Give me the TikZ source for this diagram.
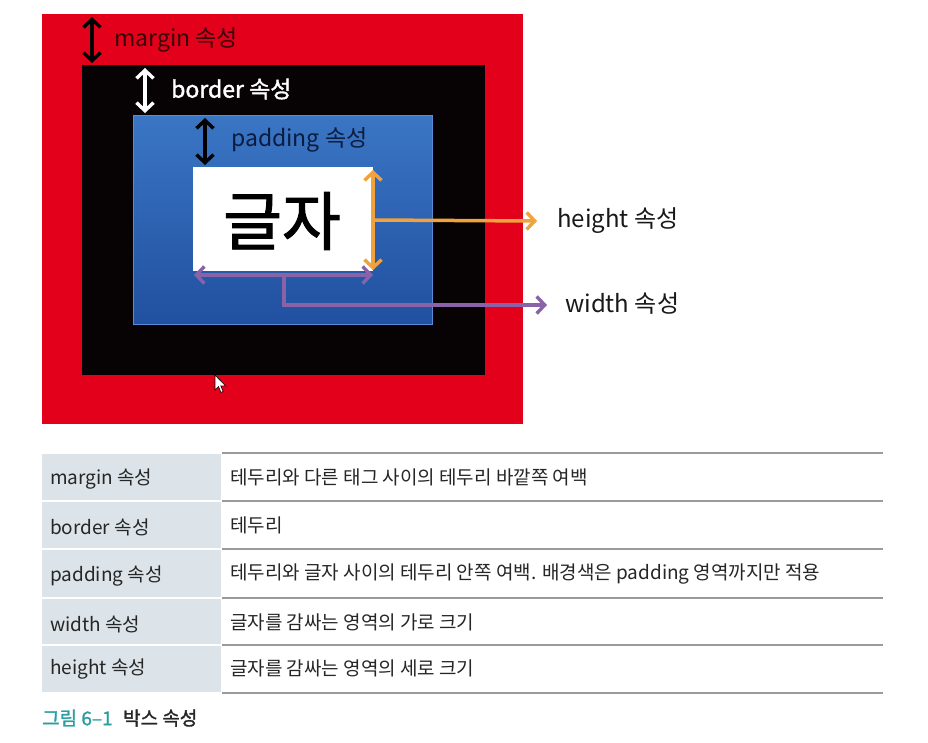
\documentclass[tikz,border=0pt]{standalone}
\usepackage{fontspec}
\setmainfont{Noto Sans CJK KR}
\newfontfamily\krb{Noto Sans CJK KR}[FakeBold=1.5]
\usetikzlibrary{arrows.meta}
\definecolor{redbg}{HTML}{E2001A}
\definecolor{blacktop}{HTML}{070203}
\definecolor{bluetop}{HTML}{3A76C4}
\definecolor{bluebot}{HTML}{2150A0}
\definecolor{blueedge}{HTML}{5B8BD6}
\definecolor{orangearr}{HTML}{F0A23C}
\definecolor{purplearr}{HTML}{8A62A8}
\definecolor{marginlab}{HTML}{3A0208}
\definecolor{paddinglab}{HTML}{0C1C40}
\definecolor{cellbg}{HTML}{DCE4E9}
\definecolor{rule}{HTML}{9A9A9A}
\definecolor{teal}{HTML}{2A9EA0}
\tikzset{
  barb/.tip={Straight Barb[length=8pt,width=17pt,line width=3.4pt]},
  hand/.style={line width=4pt, arrows={barb-barb}},
  onehead/.style={line width=3.5pt, -barb},
  lab/.style={anchor=west, inner sep=0pt, font=\fontsize{23}{25}\selectfont},
  celltxt/.style={anchor=west, inner sep=0pt, font=\fontsize{19}{21}\selectfont, text=black!85},
}
\begin{document}
\begin{tikzpicture}[x=1pt,y=-1pt]
\useasboundingbox[fill=white] (0,0) rectangle (928,742);
% boxes
\fill[redbg] (42,14) rectangle (523,424);
\fill[blacktop] (82,65) rectangle (485,375);
\shade[top color=bluetop, bottom color=bluebot] (133,115) rectangle (432,324);
\draw[blueedge, line width=1pt] (133,115) rectangle (432,324);
\fill[white] (193,167) rectangle (373,271);
\node[inner sep=0pt, font=\krb\fontsize{64}{64}\selectfont] (content) at (282,221) {글자};
% margin
\coordinate (m1) at (92,17);
\coordinate (m2) at (92,63);
\draw[hand, black] (m1) -- (m2);
\node[lab, text=marginlab] (marginlab) at (114,40) {margin 속성};
% border
\coordinate (b1) at (145,68);
\coordinate (b2) at (145,113);
\draw[hand, white] (b1) -- (b2);
\node[lab, text=white, font=\krb\fontsize{23}{25}\selectfont] (borderlab) at (171,89) {border 속성};
% padding
\coordinate (p1) at (205,118);
\coordinate (p2) at (205,165);
\draw[hand, black] (p1) -- (p2);
\node[lab, text=paddinglab] (paddinglab) at (231,140) {padding 속성};
% height
\coordinate (h1) at (373,170);
\coordinate (h2) at (373,270);
\coordinate (hm) at (373,220);
\draw[hand, orangearr] (h1) -- (h2);
\node[lab, text=black!90, font=\fontsize{24}{26}\selectfont] (heightlab) at (557,221) {height 속성};
\draw[onehead, orangearr] (hm) -- ([xshift=-20pt]heightlab.west);
% width
\coordinate (w1) at (194,275);
\coordinate (w2) at (373,275);
\coordinate (wm) at (284,275);
\coordinate (wc) at (284,305);
\draw[hand, purplearr] (w1) -- (w2);
\node[lab, text=black!90, font=\fontsize{24}{26}\selectfont] (widthlab) at (565,304) {width 속성};
\draw[onehead, purplearr] (wm) -- (wc) -- ([xshift=-18pt]widthlab.west |- wc);
% cursor
\filldraw[fill=white, draw=black, line width=0.6pt] (215,375) -- (215,390) -- (218.5,386.5) -- (221,392.5) -- (223.2,391.5) -- (220.7,385.8) -- (225.5,385.8) -- cycle;
% table
\foreach \ya/\yb in {453/501, 501/549, 549/598, 598/645, 645/693}{
  \fill[cellbg] (42,\ya+1) rectangle (221,\yb-1);
}
\foreach \y in {453, 501, 549, 598, 645, 693}{
  \draw[rule, line width=1.3pt] (222,\y) -- (883,\y);
}
\node[celltxt] (k1) at (50,479) {margin 속성};
\node[celltxt] (k2) at (50,527) {border 속성};
\node[celltxt] (k3) at (50,576) {padding 속성};
\node[celltxt] (k4) at (50,624) {width 속성};
\node[celltxt] (k5) at (50,669) {height 속성};
\node[celltxt] (v1) at (230,477) {테두리와 다른 태그 사이의 테두리 바깥쪽 여백};
\node[celltxt] (v2) at (230,525) {테두리};
\node[celltxt] (v3) at (230,574) {테두리와 글자 사이의 테두리 안쪽 여백. 배경색은 padding 영역까지만 적용};
\node[celltxt] (v4) at (230,622) {글자를 감싸는 영역의 가로 크기};
\node[celltxt] (v5) at (230,668) {글자를 감싸는 영역의 세로 크기};
% caption
\node[anchor=west, inner sep=0pt, font=\krb\fontsize{19}{21}\selectfont, text=teal] (capnum) at (42,718) {그림 6–1};
\node[anchor=west, inner sep=0pt, font=\krb\fontsize{19}{21}\selectfont, text=black!85] (captxt) at ([xshift=10pt]capnum.east) {박스 속성};
\end{tikzpicture}
\end{document}
